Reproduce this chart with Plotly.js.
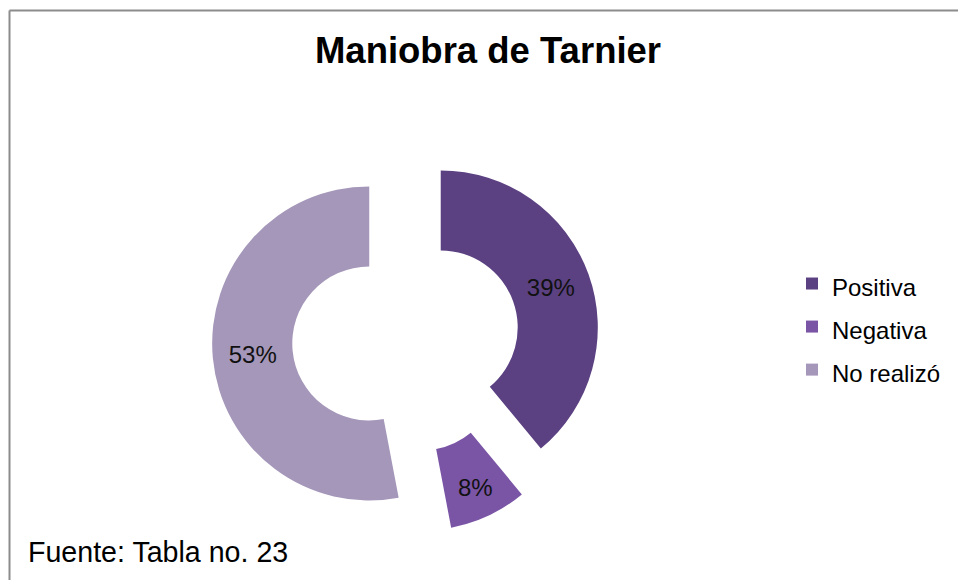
<!DOCTYPE html>
<html>
<head>
<meta charset="utf-8">
<script src="https://cdn.plot.ly/plotly-3.0.1.min.js"></script>
<style>html,body{margin:0;padding:0;background:#fff;}#chart{width:958px;height:580px;}</style>
</head>
<body>
<div id="chart"></div>
<script>
// Data
const categories = ["Positiva", "Negativa", "No realizó"];
const percentValues = [39, 8, 53];
const sliceColors = ["#5c4182", "#7a55a6", "#a597b9"];
const chartTitle = "Maniobra de Tarnier";
const sourceNote = "Fuente: Tabla no. 23";

const W = 958, H = 580;
const cx = 406, cy = 340, half = 194;

// legend labels: text at 24px inside a taller legend row
const legendLabels = categories.map(c => '<span style="font-size:24px">' + c + '</span>');

const trace = {
  type: "pie",
  labels: legendLabels,
  values: percentValues,
  sort: false,
  direction: "clockwise",
  rotation: 0,
  hole: 0.49,
  pull: [0.235, 0.235, 0.235],
  marker: {colors: sliceColors, line: {width: 0}},
  textinfo: "percent",
  texttemplate: "%{percent:.0%}",
  textposition: "inside",
  insidetextorientation: "horizontal",
  insidetextfont: {family: "Liberation Sans, Arial, sans-serif", size: 24, color: "#111"},
  hoverinfo: "percent",
  domain: {x: [(cx - half) / W, (cx + half) / W], y: [1 - (cy + half) / H, 1 - (cy - half) / H]}
};

const layout = {
  width: W, height: H,
  margin: {l: 0, r: 0, t: 0, b: 0},
  paper_bgcolor: "#ffffff",
  font: {family: "Liberation Sans, Arial, sans-serif", color: "#000"},
  title: {
    text: chartTitle,
    font: {family: "Liberation Sans, Arial, sans-serif", size: 36.5, weight: "bold", color: "#000"},
    x: 488 / W, xanchor: "center",
    y: 1 - 50 / H, yanchor: "middle"
  },
  showlegend: true,
  legend: {
    x: 792 / W, xanchor: "left",
    y: 1 - 327 / H, yanchor: "middle",
    font: {family: "Liberation Sans, Arial, sans-serif", size: 30.8, color: "#000"},
    bgcolor: "rgba(0,0,0,0)"
  },
  annotations: [{
    text: sourceNote, showarrow: false,
    xref: "paper", yref: "paper",
    x: 26 / W, xanchor: "left",
    y: 1 - 552 / H, yanchor: "middle",
    font: {family: "Liberation Sans, Arial, sans-serif", size: 28.6, color: "#000"}
  }],
  shapes: [
    {type: "line", xref: "paper", yref: "paper", x0: 9.5 / W, x1: 1, y0: 1 - 10.5 / H, y1: 1 - 10.5 / H, line: {color: "#8c8c8c", width: 2}},
    {type: "line", xref: "paper", yref: "paper", x0: 9.5 / W, x1: 9.5 / W, y0: 1 - 10.5 / H, y1: 0, line: {color: "#8c8c8c", width: 2}}
  ]
};

Plotly.newPlot("chart", [trace], layout, {displayModeBar: false, staticPlot: true});
</script>
</body>
</html>
